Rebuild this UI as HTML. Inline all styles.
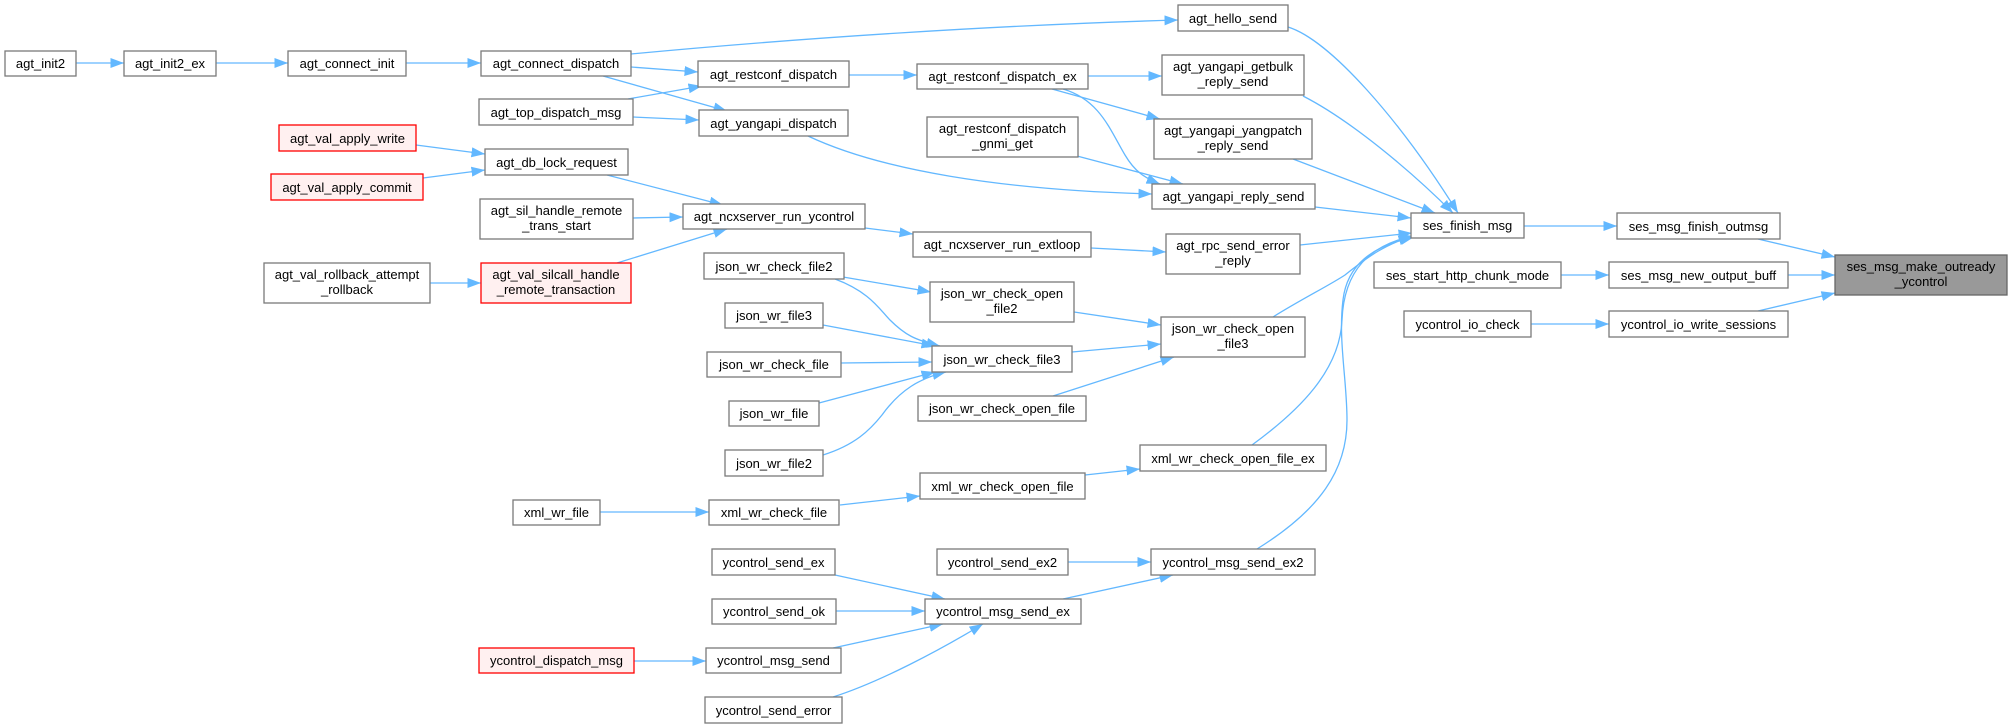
<!DOCTYPE html>
<html><head><meta charset="utf-8">
<style>
html,body{margin:0;padding:0;background:#fff;}
svg{display:block;}
text{font-family:"Liberation Sans",Arial,sans-serif;font-size:13px;fill:#000;text-anchor:middle;}
.n{fill:#fff;stroke:#7a7a7a;stroke-width:1.3;}
.r{fill:#fff0f0;stroke:#ff0000;stroke-width:1.3;}
.g{fill:#999;stroke:#666;stroke-width:1.3;}
.e{fill:none;stroke:#63b8ff;stroke-width:1.3;marker-end:url(#a);}
</style></head>
<body>
<svg width="2012" height="728" viewBox="0 0 2012 728" xmlns="http://www.w3.org/2000/svg">
<defs>
<marker id="a" markerUnits="userSpaceOnUse" markerWidth="14" markerHeight="11" refX="13.5" refY="5" orient="auto">
<path d="M0,0 L13.5,5 L0,10 z" fill="#63b8ff"/>
</marker>
</defs>

<!-- edges -->
<path class="e" d="M76,63 L124,63"/>
<path class="e" d="M216,63 L288,63"/>
<path class="e" d="M406,63 L481,63"/>
<path class="e" d="M631,54 C800,38 1000,25 1178,20"/>
<path class="e" d="M631,67 L698,72"/>
<path class="e" d="M603,76 L727,111"/>
<path class="e" d="M628,99 L702,86"/>
<path class="e" d="M633,117 L699,120"/>
<path class="e" d="M607,175 L723,205"/>
<path class="e" d="M633,218 L683,217"/>
<path class="e" d="M617,263 L727,229"/>
<path class="e" d="M430,283 L481,283"/>
<path class="e" d="M416,145 L485,154"/>
<path class="e" d="M423,178 L485,170"/>
<path class="e" d="M849,75 L917,75"/>
<path class="e" d="M1088,76 L1162,76"/>
<path class="e" d="M1052,89 L1160,119"/>
<path class="e" d="M1063,89 C1100,100 1110,130 1125,155 C1135,172 1145,178 1160,184"/>
<path class="e" d="M808,136 C880,170 1000,190 1152,194"/>
<path class="e" d="M1077,156 L1183,184"/>
<path class="e" d="M1288,27 C1330,40 1400,120 1458,213"/>
<path class="e" d="M1303,96 C1350,120 1410,170 1453,213"/>
<path class="e" d="M1293,159 L1435,213"/>
<path class="e" d="M1315,207 L1411,218"/>
<path class="e" d="M1300,245 L1412,233"/>
<path class="e" d="M1273,317 C1300,300 1330,285 1345,275 C1370,255 1385,245 1412,236"/>
<path class="e" d="M1252,445 C1300,410 1340,370 1342,320 C1344,270 1370,245 1413,236"/>
<path class="e" d="M1257,549 C1320,510 1347,470 1347,420 C1347,380 1338,340 1343,300 C1347,265 1372,246 1414,237"/>
<path class="e" d="M1524,226 L1617,226"/>
<path class="e" d="M1561,275 L1609,275"/>
<path class="e" d="M1531,324 L1609,324"/>
<path class="e" d="M1758,239 L1835,257"/>
<path class="e" d="M1788,275 L1835,275"/>
<path class="e" d="M1758,311 L1835,293"/>
<path class="e" d="M865,228 L913,234"/>
<path class="e" d="M1091,248 L1166,252"/>
<path class="e" d="M843,277 L931,292"/>
<path class="e" d="M835,279 C870,292 880,310 890,320 C905,335 915,340 940,346"/>
<path class="e" d="M823,325 L935,346"/>
<path class="e" d="M841,363 L932,362"/>
<path class="e" d="M819,403 L935,372"/>
<path class="e" d="M823,455 C855,445 870,430 882,415 C900,390 920,378 946,372"/>
<path class="e" d="M1074,312 L1161,325"/>
<path class="e" d="M1072,352 L1161,344"/>
<path class="e" d="M1053,396 L1174,357"/>
<path class="e" d="M600,512 L709,512"/>
<path class="e" d="M840,505 L920,496"/>
<path class="e" d="M1085,475 L1140,469"/>
<path class="e" d="M835,575 L945,599"/>
<path class="e" d="M836,611 L925,611"/>
<path class="e" d="M833,648 L943,624"/>
<path class="e" d="M833,697 C880,682 940,650 983,624"/>
<path class="e" d="M634,661 L706,661"/>
<path class="e" d="M1068,562 L1151,562"/>
<path class="e" d="M1063,599 L1173,575"/>

<!-- nodes -->
<rect class="n" x="5" y="51" width="71" height="25"/><text x="40.5" y="68">agt_init2</text>
<rect class="n" x="124" y="51" width="92" height="25"/><text x="170" y="68">agt_init2_ex</text>
<rect class="n" x="288" y="51" width="118" height="25"/><text x="347" y="68">agt_connect_init</text>
<rect class="n" x="481" y="51" width="150" height="25"/><text x="556" y="68">agt_connect_dispatch</text>
<rect class="n" x="479" y="99" width="154" height="26"/><text x="556" y="117">agt_top_dispatch_msg</text>
<rect class="r" x="279" y="125" width="137" height="26"/><text x="347.5" y="143">agt_val_apply_write</text>
<rect class="r" x="271" y="174" width="152" height="26"/><text x="347" y="192">agt_val_apply_commit</text>
<rect class="n" x="485" y="149" width="143" height="26"/><text x="556.5" y="167">agt_db_lock_request</text>
<rect class="n" x="480" y="199" width="153" height="40"/><text x="556.5" y="215">agt_sil_handle_remote</text><text x="556.5" y="230">_trans_start</text>
<rect class="n" x="264" y="263" width="166" height="40"/><text x="347" y="279">agt_val_rollback_attempt</text><text x="347" y="294">_rollback</text>
<rect class="r" x="481" y="263" width="150" height="40"/><text x="556" y="279">agt_val_silcall_handle</text><text x="556" y="294">_remote_transaction</text>

<rect class="n" x="1178" y="5" width="110" height="26"/><text x="1233" y="23">agt_hello_send</text>
<rect class="n" x="698" y="61" width="151" height="26"/><text x="773.5" y="79">agt_restconf_dispatch</text>
<rect class="n" x="917" y="64" width="171" height="25"/><text x="1002.5" y="81">agt_restconf_dispatch_ex</text>
<rect class="n" x="1162" y="55" width="142" height="40"/><text x="1233" y="71">agt_yangapi_getbulk</text><text x="1233" y="86">_reply_send</text>
<rect class="n" x="699" y="110" width="149" height="26"/><text x="773.5" y="128">agt_yangapi_dispatch</text>
<rect class="n" x="927" y="117" width="151" height="40"/><text x="1002.5" y="133">agt_restconf_dispatch</text><text x="1002.5" y="148">_gnmi_get</text>
<rect class="n" x="1154" y="119" width="158" height="40"/><text x="1233" y="135">agt_yangapi_yangpatch</text><text x="1233" y="150">_reply_send</text>
<rect class="n" x="1152" y="184" width="163" height="25"/><text x="1233.5" y="201">agt_yangapi_reply_send</text>
<rect class="n" x="683" y="204" width="182" height="25"/><text x="774" y="221">agt_ncxserver_run_ycontrol</text>
<rect class="n" x="913" y="232" width="178" height="25"/><text x="1002" y="249">agt_ncxserver_run_extloop</text>
<rect class="n" x="1166" y="234" width="134" height="40"/><text x="1233" y="250">agt_rpc_send_error</text><text x="1233" y="265">_reply</text>

<rect class="n" x="1411" y="213" width="113" height="25"/><text x="1467.5" y="230">ses_finish_msg</text>
<rect class="n" x="1617" y="213" width="163" height="26"/><text x="1698.5" y="231">ses_msg_finish_outmsg</text>
<rect class="g" x="1835" y="255" width="172" height="40"/><text x="1921" y="271">ses_msg_make_outready</text><text x="1921" y="286">_ycontrol</text>
<rect class="n" x="1374" y="262" width="187" height="26"/><text x="1467.5" y="280">ses_start_http_chunk_mode</text>
<rect class="n" x="1609" y="262" width="179" height="26"/><text x="1698.5" y="280">ses_msg_new_output_buff</text>
<rect class="n" x="1404" y="311" width="127" height="26"/><text x="1467.5" y="329">ycontrol_io_check</text>
<rect class="n" x="1609" y="311" width="179" height="26"/><text x="1698.5" y="329">ycontrol_io_write_sessions</text>

<rect class="n" x="704" y="253" width="140" height="26"/><text x="774" y="271">json_wr_check_file2</text>
<rect class="n" x="725" y="303" width="98" height="25"/><text x="774" y="320">json_wr_file3</text>
<rect class="n" x="707" y="352" width="134" height="25"/><text x="774" y="369">json_wr_check_file</text>
<rect class="n" x="729" y="401" width="90" height="25"/><text x="774" y="418">json_wr_file</text>
<rect class="n" x="725" y="450" width="98" height="26"/><text x="774" y="468">json_wr_file2</text>
<rect class="n" x="930" y="282" width="144" height="40"/><text x="1002" y="298">json_wr_check_open</text><text x="1002" y="313">_file2</text>
<rect class="n" x="1161" y="317" width="144" height="40"/><text x="1233" y="333">json_wr_check_open</text><text x="1233" y="348">_file3</text>
<rect class="n" x="932" y="346" width="140" height="26"/><text x="1002" y="364">json_wr_check_file3</text>
<rect class="n" x="918" y="396" width="168" height="25"/><text x="1002" y="413">json_wr_check_open_file</text>

<rect class="n" x="1140" y="445" width="186" height="26"/><text x="1233" y="463">xml_wr_check_open_file_ex</text>
<rect class="n" x="920" y="473" width="165" height="26"/><text x="1002.5" y="491">xml_wr_check_open_file</text>
<rect class="n" x="513" y="500" width="87" height="25"/><text x="556.5" y="517">xml_wr_file</text>
<rect class="n" x="709" y="500" width="130" height="25"/><text x="774" y="517">xml_wr_check_file</text>

<rect class="n" x="712" y="549" width="123" height="26"/><text x="773.5" y="567">ycontrol_send_ex</text>
<rect class="n" x="937" y="549" width="131" height="26"/><text x="1002.5" y="567">ycontrol_send_ex2</text>
<rect class="n" x="1151" y="549" width="164" height="26"/><text x="1233" y="567">ycontrol_msg_send_ex2</text>
<rect class="n" x="712" y="599" width="124" height="25"/><text x="774" y="616">ycontrol_send_ok</text>
<rect class="n" x="925" y="599" width="156" height="25"/><text x="1003" y="616">ycontrol_msg_send_ex</text>
<rect class="r" x="479" y="648" width="155" height="25"/><text x="556.5" y="665">ycontrol_dispatch_msg</text>
<rect class="n" x="706" y="648" width="135" height="25"/><text x="773.5" y="665">ycontrol_msg_send</text>
<rect class="n" x="705" y="697" width="137" height="26"/><text x="773.5" y="715">ycontrol_send_error</text>
</svg>
</body></html>
